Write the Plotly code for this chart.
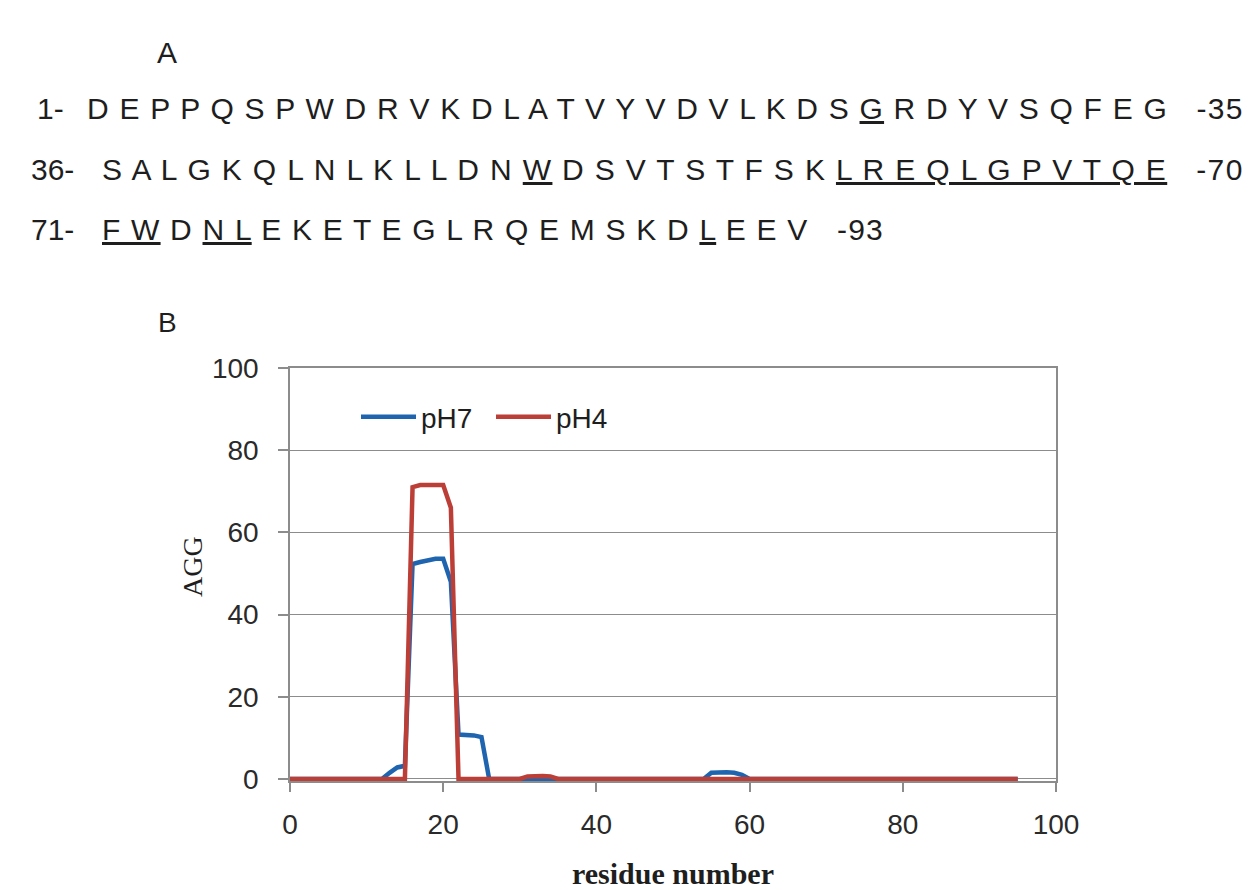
import plotly.graph_objects as go

# ---------------- data ----------------
residue = list(range(0, 96))

agg_ph7 = [
    0, 0, 0, 0, 0, 0, 0, 0, 0, 0,
    0, 0, 0, 1.5, 2.8, 3.2, 52.3, 52.8, 53.2, 53.6,
    53.6, 48, 10.8, 10.8, 10.6, 10.2, 0, 0, 0, 0,
    0, 0, 0, 0, 0, 0, 0, 0, 0, 0,
    0, 0, 0, 0, 0, 0, 0, 0, 0, 0,
    0, 0, 0, 0, 0, 1.5, 1.6, 1.6, 1.5, 1.0,
    0, 0, 0, 0, 0, 0, 0, 0, 0, 0,
    0, 0, 0, 0, 0, 0, 0, 0, 0, 0,
    0, 0, 0, 0, 0, 0, 0, 0, 0, 0,
    0, 0, 0, 0, 0, 0,
]

agg_ph4 = [
    0, 0, 0, 0, 0, 0, 0, 0, 0, 0,
    0, 0, 0, 0, 0, 0, 71, 71.5, 71.5, 71.6,
    71.5, 66, 0, 0, 0, 0, 0, 0, 0, 0,
    0, 0.6, 0.7, 0.7, 0.6, 0, 0, 0, 0, 0,
    0, 0, 0, 0, 0, 0, 0, 0, 0, 0,
    0, 0, 0, 0, 0, 0, 0, 0, 0, 0,
    0, 0, 0, 0, 0, 0, 0, 0, 0, 0,
    0, 0, 0, 0, 0, 0, 0, 0, 0, 0,
    0, 0, 0, 0, 0, 0, 0, 0, 0, 0,
    0, 0, 0, 0, 0, 0,
]

series_names = ["pH7", "pH4"]

seq_starts = ["1-", "36-", "71-"]
seq_ends = ["-35", "-70", "-93"]
seq_lines = [
    "DEPPQSPWDRVKDLATVYVDVLKDSGRDYVSQFEG",
    "SALGKQLNLKLLDNWDSVTSTFSKLREQLGPVTQE",
    "FWDNLEKETEGLRQEMSKDLEEV",
]
# 0-based indices (within each line) of underlined residues
seq_underlined = [
    [25],
    [14, 24, 25, 26, 27, 28, 29, 30, 31, 32, 33, 34],
    [0, 1, 3, 4, 19],
]

x_ticks = [0, 20, 40, 60, 80, 100]
y_ticks = [0, 20, 40, 60, 80, 100]

# ---------------- layout helpers ----------------
W, H = 1260, 890
OFF = 8  # page offset of the plot div
PL, PR, PT, PB = 290, 1056, 368, 781
Y_LO, Y_HI = -0.5, 100


def px(x):
    return (x - PL) / (PR - PL)


def py(y):
    return (PB - y) / (PB - PT)


def build_seq(seq, ul, tail, ls):
    out = ""
    i = 0
    n = len(seq)
    while i < n:
        if i in ul:
            j = i
            while j + 1 < n and (j + 1) in ul:
                j += 1
            out += "<u>" + " ".join(seq[i:j + 1]) + "</u>"
            i = j + 1
        else:
            out += seq[i]
            i += 1
        if i < n:
            out += " "
    out += "   " + tail
    return '<span style="letter-spacing:%spx">' % ls + out + "</span>"


BLUE = "#1F64AE"
RED = "#BC3F37"
TXT = "#1e1e1e"
GRID = "#8c8c8c"

fig = go.Figure()
fig.add_trace(go.Scatter(x=residue, y=agg_ph7, mode="lines", name=series_names[0],
                         line=dict(color=BLUE, width=4.5)))
fig.add_trace(go.Scatter(x=residue, y=agg_ph4, mode="lines", name=series_names[1],
                         line=dict(color=RED, width=4.5)))

annotations = []
SANS = "Liberation Sans, Arial, sans-serif"
SERIF = "Liberation Serif, Times New Roman, serif"

annotations.append(dict(text="A", x=px(167), y=py(52), xref="paper", yref="paper",
                        xanchor="center", yanchor="middle", showarrow=False,
                        font=dict(family=SANS, size=30, color=TXT)))
annotations.append(dict(text="B", x=px(167), y=py(322), xref="paper", yref="paper",
                        xanchor="center", yanchor="middle", showarrow=False,
                        font=dict(family=SANS, size=28, color=TXT)))

label_x = [35, 29, 29]
seq_x = [85, 100, 100]
line_y = [109, 169, 229]
spacing = [1.2, 1.35, 1.2]
for k in range(3):
    annotations.append(dict(text=seq_starts[k], x=px(label_x[k]), y=py(line_y[k]),
                            xref="paper", yref="paper", xanchor="left", yanchor="middle",
                            showarrow=False, font=dict(family=SANS, size=30, color=TXT)))
    annotations.append(dict(text=build_seq(seq_lines[k], seq_underlined[k], seq_ends[k], spacing[k]),
                            x=px(seq_x[k]), y=py(line_y[k]),
                            xref="paper", yref="paper", xanchor="left", yanchor="middle",
                            showarrow=False, font=dict(family=SANS, size=30, color=TXT)))

annotations.append(dict(text="AGG", x=px(192), y=py(567), xref="paper", yref="paper",
                        xanchor="center", yanchor="middle", showarrow=False, textangle=-90,
                        font=dict(family=SERIF, size=28, color=TXT)))
annotations.append(dict(text="<b>residue number</b>", x=px(673), y=py(873), xref="paper",
                        yref="paper", xanchor="center", yanchor="middle", showarrow=False,
                        font=dict(family=SERIF, size=30, color=TXT)))

fig.update_layout(
    width=W, height=H,
    margin=dict(l=PL - OFF, r=W - PR + OFF, t=PT - OFF, b=H - PB + OFF, pad=0),
    paper_bgcolor="white", plot_bgcolor="white",
    showlegend=True,
    legend=dict(orientation="h", x=px(356), y=py(392), xanchor="left", yanchor="top",
                bgcolor="rgba(0,0,0,0)", font=dict(family=SANS, size=28, color=TXT),
                itemwidth=55, entrywidth=65, entrywidthmode="pixels", tracegroupgap=0),
    annotations=annotations,
    xaxis=dict(range=[0, 100], tickvals=x_ticks, ticktext=[str(v) for v in x_ticks],
               showgrid=False, zeroline=False, showline=True, linecolor=GRID, linewidth=1.5,
               mirror=True, ticks="outside", ticklen=9, tickcolor=GRID, tickwidth=1.5,
               ticklabelstandoff=9,
               tickfont=dict(family=SANS, size=28, color="#2a2a2a")),
    yaxis=dict(range=[Y_LO, Y_HI], tickvals=y_ticks, ticktext=[str(v) for v in y_ticks],
               showgrid=True, gridcolor=GRID, gridwidth=1.3, zeroline=False, showline=True,
               linecolor=GRID, linewidth=1.5, mirror=True, ticks="outside", ticklen=10,
               tickcolor=GRID, tickwidth=1.5, ticklabelstandoff=14,
               tickfont=dict(family=SANS, size=28, color="#2a2a2a")),
)

fig.write_html("out.html")
